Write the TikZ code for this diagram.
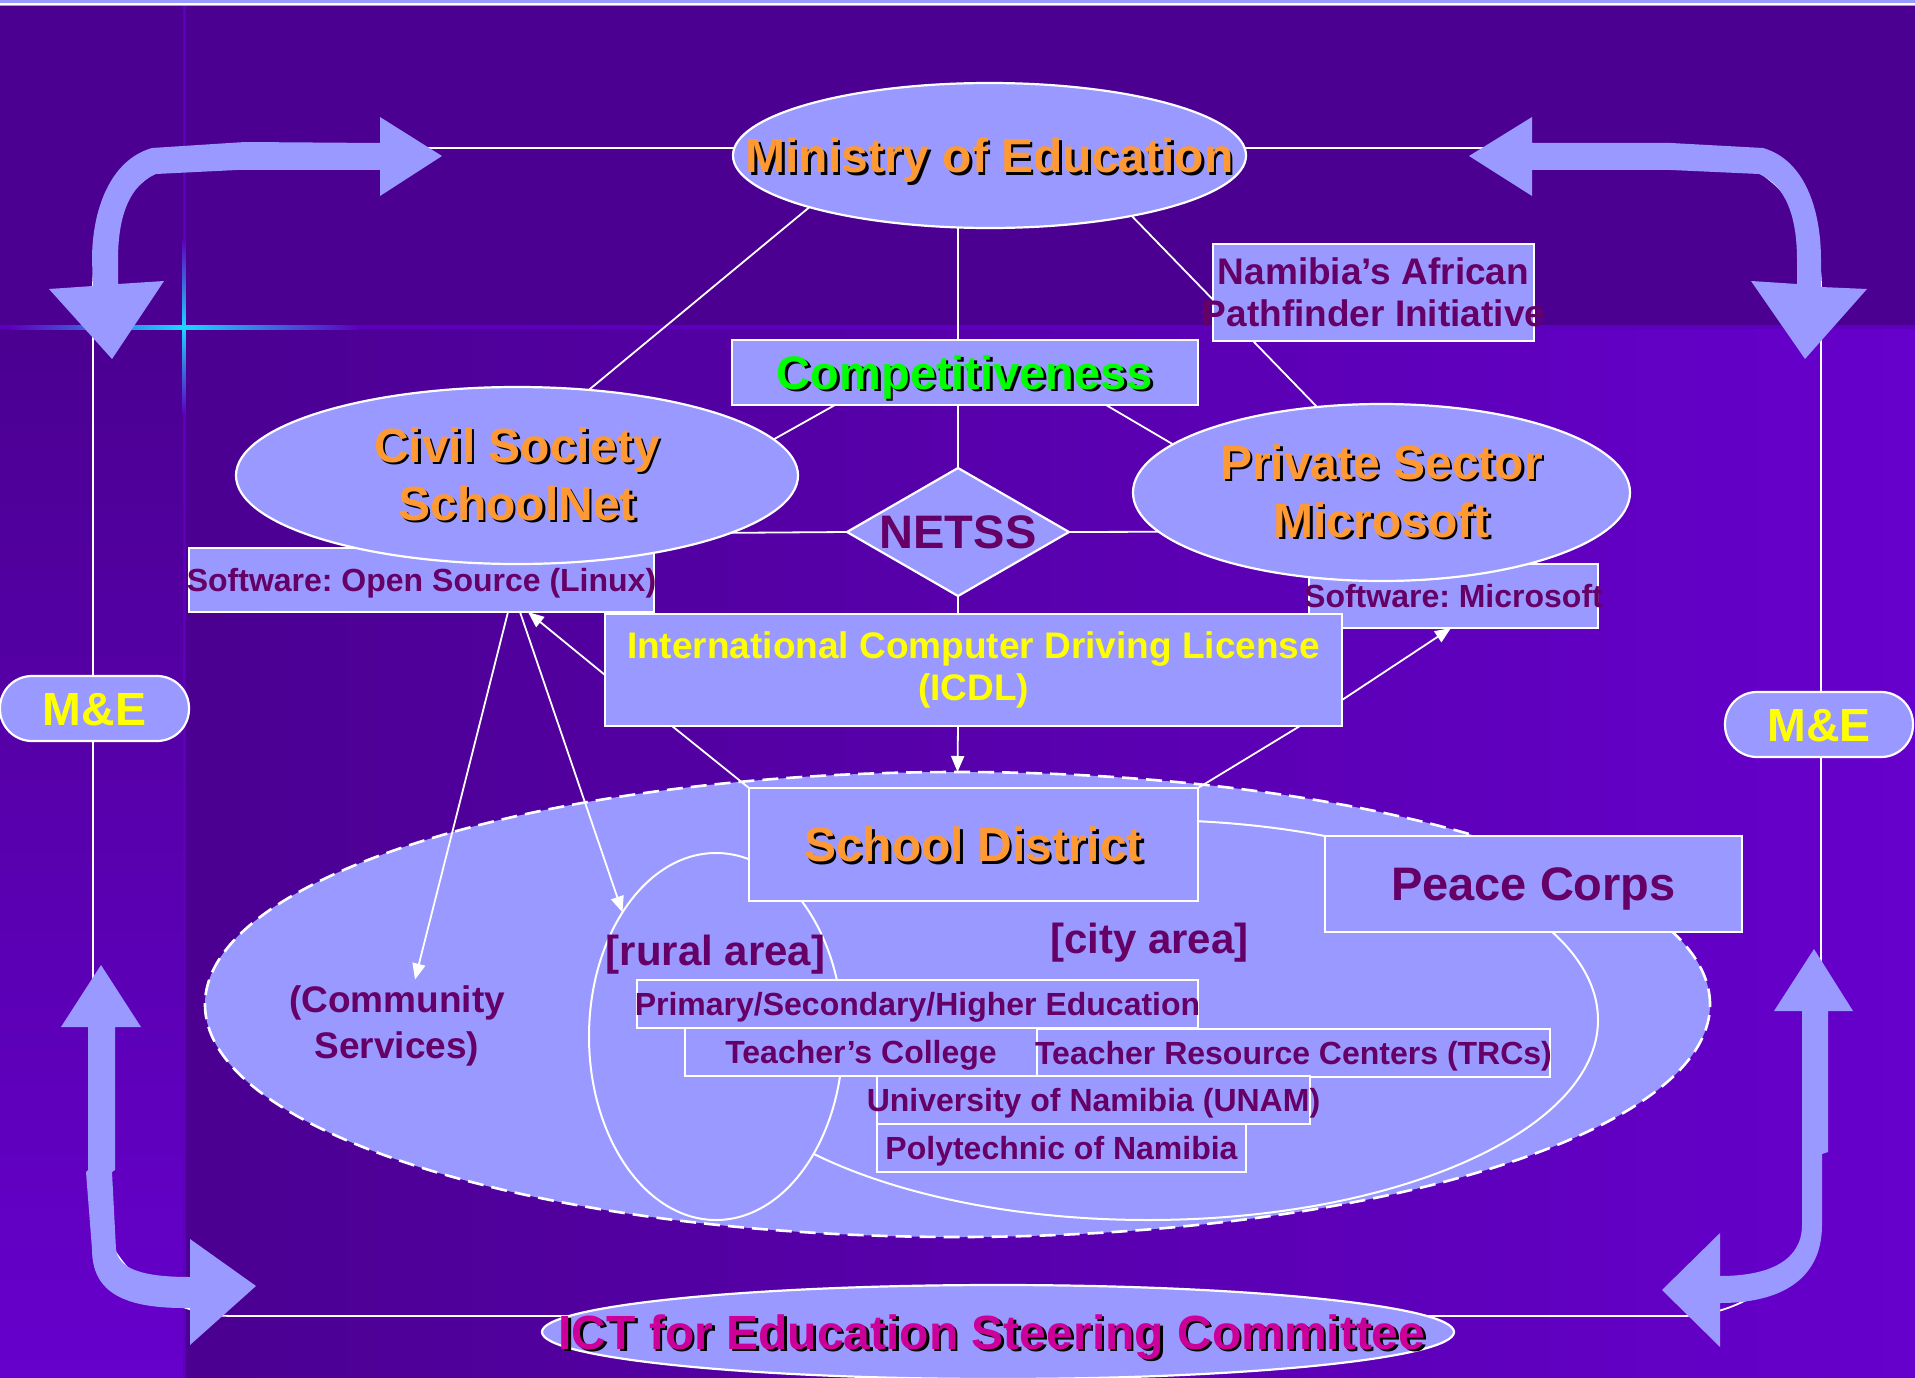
\documentclass[tikz,border=0pt]{standalone}
\usepackage{fontspec}
\setmainfont{Liberation Sans}
\usetikzlibrary{shapes.geometric, arrows.meta, calc}
\definecolor{lav}{HTML}{9999FF}
\definecolor{bgdark}{HTML}{4B0091}
\definecolor{bgbright}{HTML}{6600CC}
\definecolor{orng}{HTML}{FF9933}
\definecolor{grn}{HTML}{00FF00}
\definecolor{pnk}{HTML}{CC0099}
\definecolor{dpur}{HTML}{660066}
\definecolor{yel}{HTML}{FFFF00}
\definecolor{gridline}{HTML}{5C00BE}
\definecolor{glow}{HTML}{19D8FF}
\newcommand{\shtxt}[2]{\makebox[0pt][l]{\hspace{2.5pt}\raisebox{-2.5pt}{\color{black}#2}}{\color{#1}#2}}
\newcommand{\zw}[1]{\makebox[0pt]{#1}}
\frenchspacing
\pgfdeclarelayer{bg}
\pgfdeclarelayer{edges}
\pgfsetlayers{bg,edges,main}
\begin{document}
\begin{tikzpicture}[x=1pt, y=-1pt,
  lavfill/.style={fill=lav, draw=white, line width=2.2pt},
  ellnode/.style={lavfill, ellipse, inner sep=0pt, outer sep=0pt},
  boxnode/.style={lavfill, rectangle, inner sep=0pt, outer sep=0pt},
  txt/.style={inner sep=0pt, outer sep=0pt},
  ttl/.style={font=\bfseries\fontsize{48}{58}\selectfont, align=center},
  oneline48/.style={font=\bfseries\fontsize{48}{58}\selectfont, text height=34.4pt, text depth=0pt},
  oneline47/.style={font=\bfseries\fontsize{47}{56}\selectfont, text height=33.7pt, text depth=0pt},
  smalltxt/.style={font=\bfseries\fontsize{32}{38}\selectfont, text=dpur, text height=22.9pt, text depth=0pt},
  midtxt/.style={font=\bfseries\fontsize{37}{42.5}\selectfont, align=center},
  conn/.style={draw=white, line width=1.8pt},
  arr/.style={conn, -{Triangle[length=16pt,width=13pt]}},
  bigarrow/.style={fill=lav},
  mebox/.style={lavfill, rectangle, rounded corners=32pt, inner sep=0pt, outer sep=0pt,
     minimum height=65pt, font=\bfseries\fontsize{46.5}{56}\selectfont, text=yel,
     text height=33.3pt, text depth=0pt},
]
\useasboundingbox (0,0) rectangle (1915,1378);

% ---------------- background ----------------
\begin{pgfonlayer}{bg}
\fill[bgdark] (0,0) rectangle (1915,1378);
\shade[left color=bgdark, right color=bgbright] (184,327) rectangle (1915,1378);
\shade[top color=bgdark, bottom color=bgbright] (0,327) rectangle (184,1378);
\draw[gridline, line width=4pt] (0,327) -- (1915,327);
\draw[gridline, line width=3pt] (184,6) -- (184,1378);
\shade[left color=gridline, right color=gridline, middle color=glow] (10,325) rectangle (358,329);
\shade[top color=gridline, bottom color=gridline, middle color=glow] (182.5,240) rectangle (185.5,414);
\fill[lav] (0,0) rectangle (1915,3);
\draw[white, line width=1.5pt] (0,4) -- (1915,4);
\draw[lav, line width=1pt] (0,5.6) -- (1915,5.6);
\end{pgfonlayer}

% ---------------- nodes ----------------
\node[ellnode, minimum width=513pt, minimum height=145pt, oneline48] (min) at (989.5,155.5)
  {\zw{\shtxt{orng}{Ministry of Education}}};
\node[boxnode, minimum width=466pt, minimum height=65pt, oneline47] (comp) at (965,372.5)
  {\zw{\shtxt{grn}{Competitiveness}}};
\node[boxnode, minimum width=321pt, minimum height=97pt, midtxt, text=dpur] (nam) at (1373.5,292.5)
  {\zw{Namibia’s African}\\\zw{Pathfinder Initiative}};
\node[boxnode, minimum width=465pt, minimum height=64pt, smalltxt] (swl) at (421.5,580)
  {\zw{Software: Open Source (Linux)}};
\node[boxnode, minimum width=289pt, minimum height=64pt, smalltxt] (swm) at (1453.5,596)
  {\zw{Software: Microsoft}};
\node[ellnode, minimum width=562pt, minimum height=177pt, ttl] (civ) at (517,475.5)
  {\shtxt{orng}{Civil Society}\\\shtxt{orng}{SchoolNet}};
\node[ellnode, minimum width=497pt, minimum height=177pt, ttl] (priv) at (1381.5,492.5)
  {\shtxt{orng}{Private Sector}\\\shtxt{orng}{Microsoft}};
\node[lavfill, diamond, inner sep=0pt, outer sep=0pt, minimum width=222pt, minimum height=128pt,
  oneline47, text=dpur] (netss) at (958,532) {\zw{NETSS}};
\node[boxnode, minimum width=737pt, minimum height=112pt, midtxt, text=yel] (icdl) at (973.5,670)
  {International Computer Driving License\\(ICDL)};

\node[ellnode, dash pattern=on 16pt off 8pt, line width=2.6pt, minimum width=1505pt, minimum height=465pt]
  (area) at (957.5,1004.5) {};
\node[ellnode, line width=2pt, minimum width=900pt, minimum height=400pt] (city) at (1148,1020) {};
\node[ellnode, line width=2pt, minimum width=254pt, minimum height=367pt] (rural) at (716,1036.5) {};
\node[boxnode, minimum width=449pt, minimum height=113pt, oneline48] (sd) at (973.5,844.5)
  {\zw{\shtxt{orng}{School District}}};
\node[boxnode, minimum width=417pt, minimum height=96pt, oneline47, text=dpur] (pc) at (1533.5,884)
  {\zw{Peace Corps}};
\node[txt, font=\bfseries\fontsize{42}{48}\selectfont, text=dpur, anchor=base] (ruraltxt) at (715.5,965) {[rural area]};
\node[txt, font=\bfseries\fontsize{42}{48}\selectfont, text=dpur, anchor=base] (citytxt) at (1149.5,953) {[city area]};
\node[boxnode, smalltxt, minimum width=561pt, minimum height=48pt] (prim) at (917.5,1004)
  {\zw{Primary/Secondary/Higher Education}};
\node[boxnode, smalltxt, minimum width=352pt, minimum height=48pt] (tc) at (861,1052)
  {\zw{Teacher’s College}};
\node[boxnode, smalltxt, minimum width=513pt, minimum height=48pt] (trc) at (1293.5,1053)
  {\zw{Teacher Resource Centers (TRCs)}};
\node[boxnode, smalltxt, minimum width=433pt, minimum height=48pt] (unam) at (1093.5,1100)
  {\zw{University of Namibia (UNAM)}};
\node[boxnode, smalltxt, minimum width=369pt, minimum height=48pt] (poly) at (1061.5,1148)
  {\zw{Polytechnic of Namibia}};
\node[txt, font=\bfseries\fontsize{37}{46}\selectfont, text=dpur, align=center] (comm) at (397,1025.8)
  {(Community\\Services)};

\node[ellnode, minimum width=912pt, minimum height=94pt, oneline48] (ict) at (998,1332)
  {\zw{\hspace*{-12pt}\shtxt{pnk}{ICT for Education Steering Committee}}};
\node[mebox, minimum width=189pt] (me1) at (94.5,708.5) {M\&E};
\node[mebox, minimum width=188pt] (me2) at (1819,724.5) {M\&E};

% ---------------- connectors behind nodes ----------------
\begin{pgfonlayer}{edges}
\draw[white, line width=1.8pt, rounded corners=140pt] (93,148) rectangle (1821,1316);
\draw[conn] (min.196.4) -- (civ.50.3);
\draw[conn] (min.337.4) -- (priv.127.5);
\draw[conn] (min.south -| netss.north) -- (comp.north -| netss.north);
\draw[conn] (comp.south -| netss.north) -- (netss.north);
\draw[conn] ([xshift=103pt]comp.south west) -- (civ.8.3);
\draw[conn] ([xshift=-92pt]comp.south east) -- (priv.167);
\draw[conn] (netss.west) -- (civ.345.5);
\draw[conn] (netss.east) -- (priv.190.2);
\draw[conn] (netss.south) -- (icdl.north -| netss.south);

% big curved arrows
\fill[bigarrow] (442,156) -- (380,117) -- (380,143) -- (245,142) -- (152,148)
  .. controls (110,160) and (92,210) .. (92,260) -- (93,286) -- (49,289) -- (112,359)
  -- (164,281) -- (118,284) -- (118,260) .. controls (118,215) and (130,185) .. (156,174)
  -- (237,170) -- (380,170) -- (380,196) -- cycle;
\fill[bigarrow] (1469,156) -- (1532,117) -- (1532,143) -- (1671,143) -- (1763,148)
  .. controls (1805,160) and (1821,210) .. (1821,260) -- (1821,287) -- (1867,289) -- (1805,359)
  -- (1751,281) -- (1797,284) -- (1797,260) .. controls (1797,215) and (1785,185) .. (1759,174)
  -- (1671,170) -- (1532,170) -- (1532,196) -- cycle;
\fill[bigarrow] (101,965) -- (141,1027) -- (115,1027) -- (115,1170) -- (112,1172) -- (116,1249)
  .. controls (118,1268) and (140,1277) .. (190,1277) -- (190,1239) -- (256,1286) -- (190,1345)
  -- (190,1308) -- (184,1308) .. controls (120,1308) and (92,1290) .. (92,1249)
  -- (86,1172) -- (88,1170) -- (88,1027) -- (61,1027) -- cycle;
\fill[bigarrow] (1814,949) -- (1853,1011) -- (1828,1011) -- (1828,1152) -- (1822,1154) -- (1822,1225)
  .. controls (1822,1280) and (1780,1303) .. (1720,1303) -- (1720,1347) -- (1662,1290)
  -- (1720,1233) -- (1720,1276) .. controls (1770,1276) and (1802,1260) .. (1802,1225)
  -- (1802,1011) -- (1774,1011) -- cycle;
\end{pgfonlayer}

% ---------------- connectors on top ----------------
\draw[arr] (icdl.south -| netss.south) -- (area.north);
\draw[arr] ([yshift=-5pt]icdl.west) -- ([xshift=339pt]swl.south west);
\draw[arr] ([yshift=-30pt]icdl.east) -- ([xshift=-2.5pt]swm.south);
\draw[arr] ([xshift=319pt]swl.south west) -- ([xshift=18pt,yshift=6pt]comm.north);
\draw[arr] ([xshift=331pt]swl.south west) -- (rural.127.5);
\draw[conn] ([xshift=67pt]icdl.south west) -- (sd.north west);
\draw[conn] ([xshift=-42pt]icdl.south east) -- (sd.north east);
\end{tikzpicture}
\end{document}
